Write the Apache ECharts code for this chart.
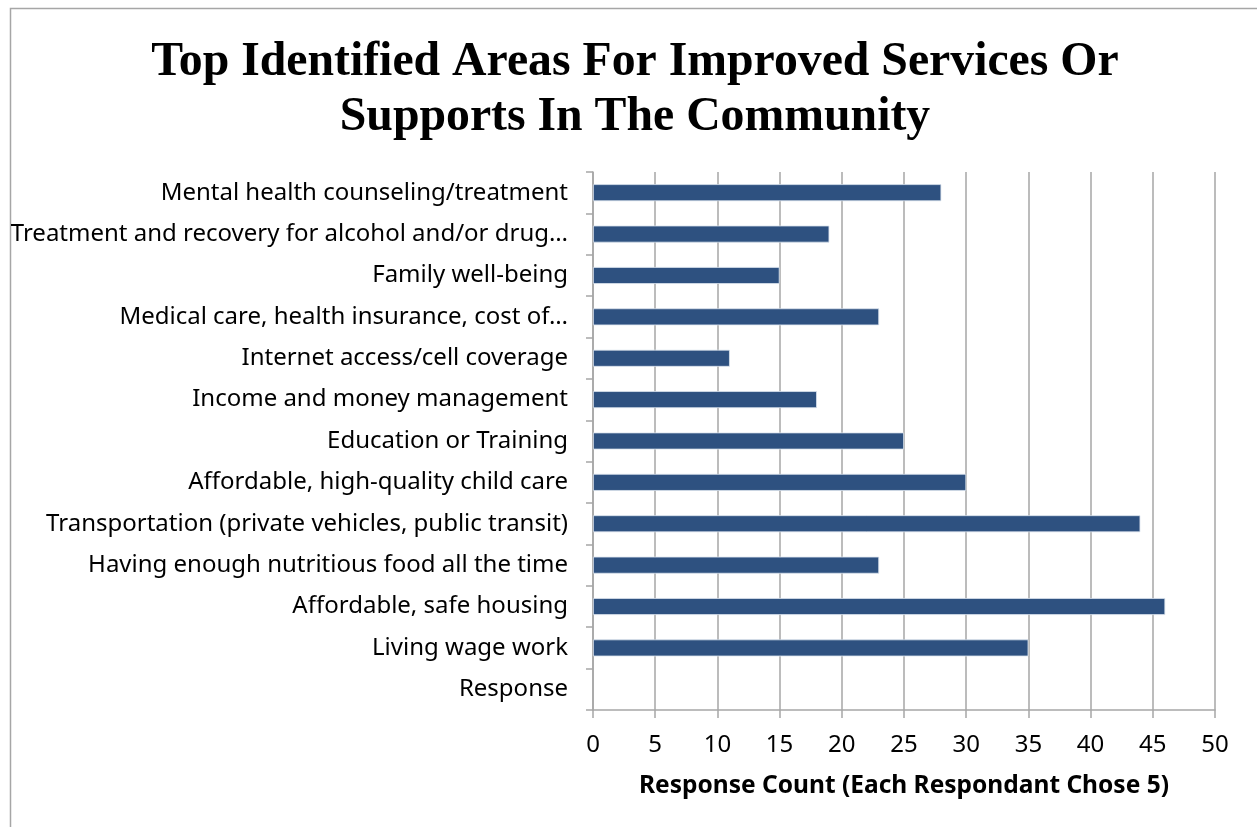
<!DOCTYPE html>
<html>
<head>
<meta charset="utf-8">
<script src="https://cdn.jsdelivr.net/npm/echarts@6/dist/echarts.min.js"></script>
<style>
  html, body { margin: 0; padding: 0; background: #ffffff; }
  #chart { width: 1257px; height: 827px; }
</style>
</head>
<body>
<div id="chart"></div>
<script>
// Categories listed bottom to top, as drawn on the category axis
const categories = [
  'Response',
  'Living wage work',
  'Affordable, safe housing',
  'Having enough nutritious food all the time',
  'Transportation (private vehicles, public transit)',
  'Affordable, high-quality child care',
  'Education or Training',
  'Income and money management',
  'Internet access/cell coverage',
  'Medical care, health insurance, cost of\u2026',
  'Family well-being',
  'Treatment and recovery for alcohol and/or drug\u2026',
  'Mental health counseling/treatment'
];
const responseCounts = [null, 35, 46, 23, 44, 30, 25, 18, 11, 23, 15, 19, 28];
const xTicks = [0, 5, 10, 15, 20, 25, 30, 35, 40, 45, 50];

const chart = echarts.init(document.getElementById('chart'));
const sans = '"Noto Sans", "Liberation Sans", sans-serif';

chart.setOption({
  animation: false,
  backgroundColor: '#ffffff',
  graphic: [{
    type: 'rect',
    shape: { x: 10.5, y: 8.5, width: 1400, height: 1000 },
    style: { fill: 'none', stroke: '#a6a6a6', lineWidth: 1.5 },
    silent: true
  }],
  title: {
    text: 'Top Identified Areas For Improved Services Or\nSupports In The Community',
    left: 630,
    textAlign: 'center',
    top: 30,
    textStyle: {
      fontFamily: '"Liberation Serif", "Times New Roman", serif',
      fontWeight: 'bold',
      fontSize: 47.75,
      lineHeight: 55,
      color: '#000000'
    }
  },
  grid: { left: 593, right: 42, top: 172, bottom: 117, containLabel: false },
  xAxis: {
    type: 'value',
    min: 0,
    max: 50,
    interval: 5,
    name: 'Response Count (Each Respondant Chose 5)',
    nameLocation: 'middle',
    nameGap: 64,
    nameTextStyle: { fontFamily: sans, fontWeight: 'bold', fontSize: 24.5, color: '#000000' },
    axisLine: { show: true, lineStyle: { color: '#a6a6a6', width: 1.5 } },
    axisTick: { show: true, length: 8, lineStyle: { color: '#a6a6a6', width: 1.5 } },
    axisLabel: {
      margin: 23,
      fontFamily: sans,
      fontSize: 24,
      color: '#000000',
      formatter: v => xTicks.includes(v) ? String(v) : ''
    },
    splitLine: { show: true, lineStyle: { color: '#a6a6a6', width: 1.5 } }
  },
  yAxis: {
    type: 'category',
    data: categories,
    axisLine: { show: true, lineStyle: { color: '#a6a6a6', width: 1.5 } },
    axisTick: { show: true, length: 7, lineStyle: { color: '#a6a6a6', width: 1.5 } },
    axisLabel: {
      margin: 25,
      fontFamily: sans,
      fontSize: 24,
      color: '#000000'
    },
    splitLine: { show: false }
  },
  series: [{
    type: 'bar',
    data: responseCounts,
    barWidth: '41%',
    itemStyle: { color: '#2e5180', borderColor: '#dbe3ee', borderWidth: 0.8 }
  }]
});
</script>
</body>
</html>
